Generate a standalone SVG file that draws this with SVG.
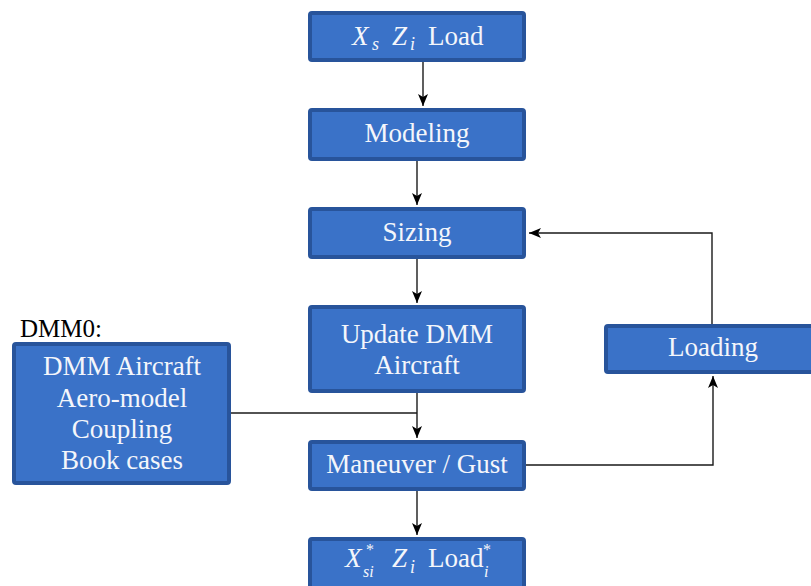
<svg xmlns="http://www.w3.org/2000/svg" width="811" height="586" viewBox="0 0 811 586">
  <style>
    .box { fill: #3a72c8; stroke: #28549b; stroke-width: 4; }
    text { font-family: "Liberation Serif", "DejaVu Serif", serif; }
    .t { font-size: 27px; fill: #f4f6fb; text-anchor: middle; }
    .tl { font-size: 27px; fill: #f4f6fb; }
    .it { font-style: italic; }
    .sm { font-size: 18px; }
    .xs { font-size: 16px; }
    .lab { font-size: 25px; fill: #000; }
    .edge { fill: none; stroke: #1a1a1a; stroke-width: 1.4; }
  </style>
  <defs>
    <marker id="arr" markerUnits="userSpaceOnUse" markerWidth="14" markerHeight="12" refX="12" refY="5" orient="auto">
      <path d="M0,0 L12,5 L0,10 L3,5 Z" fill="#000"/>
    </marker>
  </defs>
  <rect width="811" height="586" fill="#fff"/>

  <g id="connectors">
    <path class="edge" d="M423,62 L423,106" marker-end="url(#arr)"/>
    <path class="edge" d="M417,161 L417,205" marker-end="url(#arr)"/>
    <path class="edge" d="M417,259 L417,303" marker-end="url(#arr)"/>
    <path class="edge" d="M417,393 L417,438" marker-end="url(#arr)"/>
    <path class="edge" d="M231,413 L417,413"/>
    <path class="edge" d="M417,491 L417,535" marker-end="url(#arr)"/>
    <path class="edge" d="M526,465 L713,465 L713,376" marker-end="url(#arr)"/>
    <path class="edge" d="M712,324 L712,233 L529,233" marker-end="url(#arr)"/>
  </g>

  <g id="node-load">
    <rect class="box" x="310" y="13" width="214" height="47" rx="2"/>
    <text class="tl it" x="352" y="45">X</text>
    <text class="tl it sm" x="372" y="50">s</text>
    <text class="tl it" x="392" y="45">Z</text>
    <text class="tl it sm" x="410" y="50">i</text>
    <text class="tl" x="428" y="45">Load</text>
  </g>

  <g id="node-modeling">
    <rect class="box" x="310" y="110" width="214" height="49" rx="2"/>
    <text class="t" x="417" y="142">Modeling</text>
  </g>

  <g id="node-sizing">
    <rect class="box" x="310" y="209" width="214" height="48" rx="2"/>
    <text class="t" x="417" y="241">Sizing</text>
  </g>

  <g id="node-update">
    <rect class="box" x="310" y="307" width="214" height="84" rx="2"/>
    <text class="t" x="417" y="343">Update DMM</text>
    <text class="t" x="417" y="374">Aircraft</text>
  </g>

  <g id="node-maneuver">
    <rect class="box" x="310" y="442" width="214" height="47" rx="2"/>
    <text class="t" x="417" y="473">Maneuver / Gust</text>
  </g>

  <g id="node-result">
    <rect class="box" x="310" y="539" width="214" height="60" rx="2"/>
    <text class="tl it" x="345" y="567">X</text>
    <text class="tl xs" x="366" y="555">*</text>
    <text class="tl it xs" x="363" y="577">si</text>
    <text class="tl it" x="392" y="567">Z</text>
    <text class="tl it sm" x="410" y="573">i</text>
    <text class="tl" x="428" y="567">Load</text>
    <text class="tl xs" x="483" y="555">*</text>
    <text class="tl it xs" x="484" y="577">i</text>
  </g>

  <g id="node-loading">
    <rect class="box" x="606" y="326" width="220" height="46" rx="2"/>
    <text class="t" x="713" y="356">Loading</text>
  </g>

  <g id="node-dmm0">
    <text class="lab" x="20" y="337">DMM0:</text>
    <rect class="box" x="14" y="344" width="215" height="139" rx="2"/>
    <text class="t" x="122" y="375">DMM Aircraft</text>
    <text class="t" x="122" y="407">Aero-model</text>
    <text class="t" x="122" y="438">Coupling</text>
    <text class="t" x="122" y="469">Book cases</text>
  </g>
</svg>
